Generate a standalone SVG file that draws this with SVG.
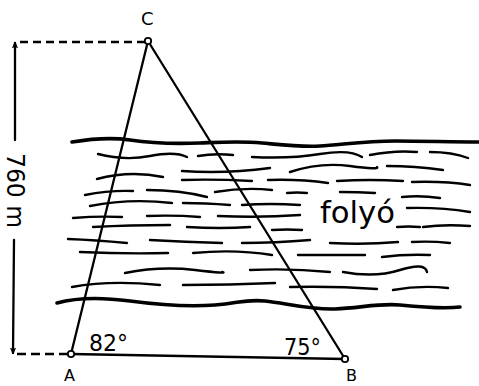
<svg xmlns="http://www.w3.org/2000/svg" width="479" height="386" viewBox="0 0 479 386">
<style>
.w{fill:none;stroke:#000;stroke-width:2.4;stroke-linecap:round}
.b{fill:none;stroke:#000;stroke-width:3.6;stroke-linecap:round}
.t{fill:none;stroke:#000;stroke-width:2.3;stroke-linecap:round}
.d{fill:none;stroke:#000;stroke-width:2.3}
.v{fill:#fff;stroke:#000;stroke-width:1.8}
text{font-family:"DejaVu Sans","Liberation Sans",sans-serif;fill:#000}
</style>
<defs>
<marker id="ah" viewBox="0 0 10 10" refX="9" refY="5" markerWidth="6" markerHeight="6" orient="auto" markerUnits="userSpaceOnUse">
<path d="M0,1 L10,5 L0,9" fill="none" stroke="#000" stroke-width="2"/>
</marker>
</defs>
<rect width="479" height="386" fill="#fff"/>
<g id="river">
<path class="b" d="M72,142 C90,139 110,137 130,140 S175,144 200,143 S240,141 262,143 S300,147 320,146 S365,141 395,141 S450,142 479,142"/>
<path class="b" d="M57,303 C75,298 100,297 130,301 S190,307 215,305 S245,299 265,301 S310,310 335,309 S380,303 400,305 S445,309 460,307"/>
<path class="w" d="M98,154 Q125,161 150,156 T187,157"/>
<path class="w" d="M198,156 Q215,153 233,155"/>
<path class="w" d="M252,157 Q290,159 320,154 T362,157"/>
<path class="w" d="M370,155 Q395,150 417,152"/>
<path class="w" d="M430,152 Q452,152 468,158"/>
<path class="w" d="M182,171 Q225,174 270,168"/>
<path class="w" d="M290,172 Q320,162 350,166 T377,167"/>
<path class="w" d="M387,166 Q415,166 443,170"/>
<path class="w" d="M97,179 Q130,170 163,177"/>
<path class="w" d="M182,180 Q215,179 252,181"/>
<path class="w" d="M268,180 Q300,179 328,183"/>
<path class="w" d="M337,181 Q370,179 403,181"/>
<path class="w" d="M412,182 Q445,181 470,185"/>
<path class="w" d="M85,195 Q110,190 133,191"/>
<path class="w" d="M147,190 Q180,190 207,197"/>
<path class="w" d="M215,192 Q245,187 272,190"/>
<path class="w" d="M287,193 Q297,192 307,193"/>
<path class="w" d="M340,192 Q358,192 375,193"/>
<path class="w" d="M402,197 Q420,195 440,198"/>
<path class="w" d="M90,206 Q130,198 172,203"/>
<path class="w" d="M183,203 Q205,203 230,205"/>
<path class="w" d="M242,205 Q270,203 300,205"/>
<path class="w" d="M407,208 Q440,207 470,212"/>
<path class="w" d="M73,218 Q98,216 122,217"/>
<path class="w" d="M147,216 Q175,215 200,217"/>
<path class="w" d="M218,216 Q260,218 300,215"/>
<path class="w" d="M93,227 Q130,225 170,225"/>
<path class="w" d="M187,227 Q220,229 250,227"/>
<path class="w" d="M272,230 Q287,229 302,230"/>
<path class="w" d="M397,227 Q408,226 420,227"/>
<path class="w" d="M423,227 Q445,224 470,226"/>
<path class="w" d="M68,239 Q95,240 127,243"/>
<path class="w" d="M150,240 Q185,242 222,243"/>
<path class="w" d="M242,243 Q275,243 310,240"/>
<path class="w" d="M330,243 Q365,245 398,242"/>
<path class="w" d="M412,242 Q430,241 450,243"/>
<path class="w" d="M80,252 Q125,254 168,253"/>
<path class="w" d="M193,253 Q235,249 272,255"/>
<path class="w" d="M298,255 Q330,255 365,255"/>
<path class="w" d="M382,257 Q405,254 430,255"/>
<path class="w" d="M125,273 Q160,266 195,270 T222,272"/>
<path class="w" d="M250,270 Q290,268 330,272"/>
<path class="w" d="M343,272 Q375,278 400,270 T427,272"/>
<path class="w" d="M72,287 Q110,280 160,285"/>
<path class="w" d="M183,285 Q230,285 275,283"/>
<path class="w" d="M290,287 Q335,286 377,289"/>
<path class="w" d="M393,290 Q420,285 448,288"/>
</g>
<g id="connectors">
<path class="t" d="M71,354 L148,41"/>
<path class="t" d="M148,41 L345,359"/>
<path class="t" d="M71,354 L345,359"/>
<path class="d" d="M145,42 L17,42" stroke-dasharray="8,5"/>
<path class="d" d="M68,354 L14,354" stroke-dasharray="9,5"/>
<path class="t" d="M15,140 L15,43" marker-end="url(#ah)"/>
<path class="t" d="M14,240 L13,353" marker-end="url(#ah)"/>
</g>
<g id="dimension">
<text transform="translate(7,153) rotate(90)" font-size="24" textLength="75" lengthAdjust="spacingAndGlyphs">760 m</text>
</g>
<g id="node-C">
<circle class="v" cx="148" cy="41" r="3.2"/>
<text x="141" y="25" font-size="18">C</text>
</g>
<g id="node-A">
<circle class="v" cx="71" cy="354" r="3.2"/>
<text x="64" y="381" font-size="16">A</text>
<text x="89" y="351" font-size="23" textLength="39" lengthAdjust="spacingAndGlyphs">82°</text>
</g>
<g id="node-B">
<circle class="v" cx="345" cy="359" r="3.2"/>
<text x="346" y="381" font-size="16">B</text>
<text x="284" y="355" font-size="23" textLength="37" lengthAdjust="spacingAndGlyphs">75°</text>
</g>
<g id="label-river">
<text x="320" y="223" font-size="31" textLength="75" lengthAdjust="spacingAndGlyphs">folyó</text>
</g>
</svg>
